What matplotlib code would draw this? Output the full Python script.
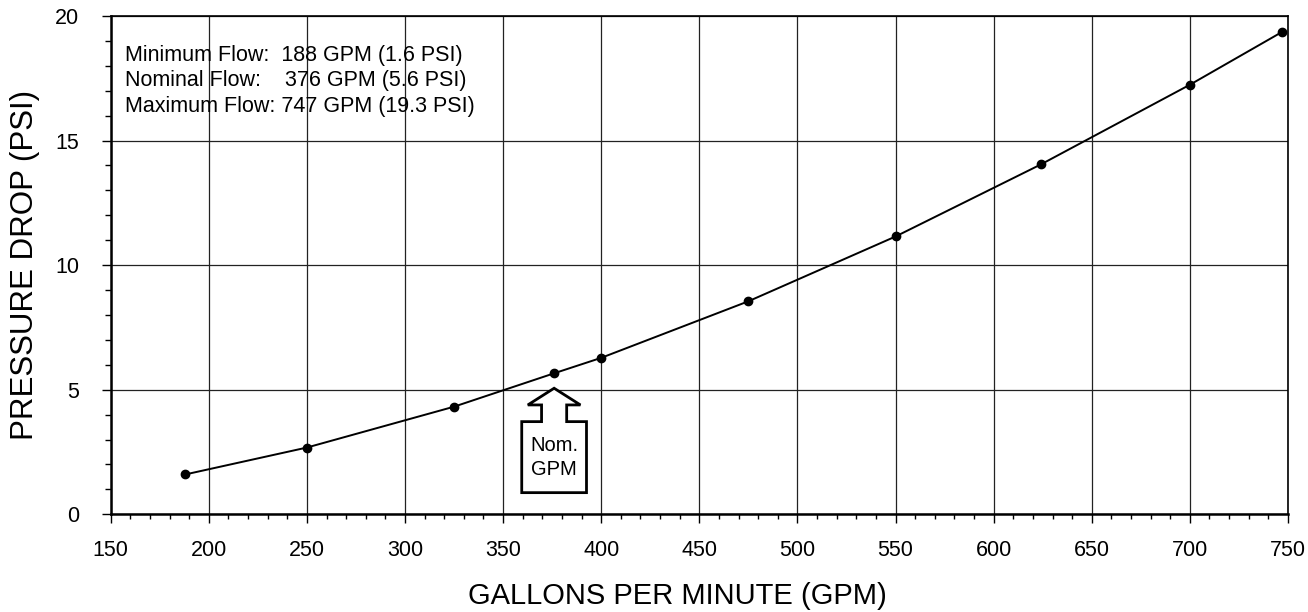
import matplotlib.pyplot as plt
from matplotlib.patches import Polygon
from matplotlib.ticker import MultipleLocator

# Pressure drop curve
gpm = [188, 250, 325, 376, 400, 475, 550, 624, 700, 747]
psi = [1.6, 2.68, 4.32, 5.66, 6.28, 8.55, 11.15, 14.04, 17.24, 19.36]

info_lines = ['Minimum Flow:  188 GPM (1.6 PSI)',
              'Nominal Flow:    376 GPM (5.6 PSI)',
              'Maximum Flow: 747 GPM (19.3 PSI)']
nominal_gpm = 376

plt.rcParams['font.family'] = ['Liberation Sans', 'DejaVu Sans']

fig = plt.figure(figsize=(13.08, 6.12), dpi=100)
ax = fig.add_axes([0.0846, 0.1596, 0.9001, 0.8143])

ax.plot(gpm, psi, color='black', lw=1.4, marker='o', markersize=6, zorder=4)

ax.set_xlim(150, 750)
ax.set_ylim(0, 20)
ax.xaxis.set_major_locator(MultipleLocator(50))
ax.xaxis.set_minor_locator(MultipleLocator(10))
ax.yaxis.set_major_locator(MultipleLocator(5))
ax.yaxis.set_minor_locator(MultipleLocator(1))

ax.grid(which='major', color='#222222', lw=0.9)
ax.set_axisbelow(True)

ax.tick_params(axis='x', which='major', length=6.5, width=1, labelsize=15.5, pad=12)
ax.tick_params(axis='x', which='minor', length=3.6, width=1)
ax.tick_params(axis='y', which='major', length=6.5, width=1, labelsize=15.5, pad=16)
ax.tick_params(axis='y', which='minor', length=4, width=1)

for side in ['left', 'bottom']:
    ax.spines[side].set_linewidth(1.8)
for side in ['top', 'right']:
    ax.spines[side].set_linewidth(1.2)

ax.set_xlabel('GALLONS PER MINUTE (GPM)', fontsize=21)
ax.xaxis.set_label_coords(0.481, -0.135)
ax.set_ylabel('PRESSURE DROP (PSI)', fontsize=22.5)
ax.yaxis.set_label_coords(-0.06, 0.5)

# info text
for i, line in enumerate(info_lines):
    ax.text(0.0125, 0.910 - i * 0.0515, line, transform=ax.transAxes,
            fontsize=15.5, va='baseline', ha='left')

# nominal GPM block arrow
c = nominal_gpm
arrow_pts = [(c, 5.06), (c + 13.4, 4.39), (c + 6.4, 4.39), (c + 6.4, 3.72),
             (c + 16.5, 3.72), (c + 16.5, 0.87), (c - 16.5, 0.87),
             (c - 16.5, 3.72), (c - 6.4, 3.72), (c - 6.4, 4.39), (c - 13.4, 4.39)]
ax.add_patch(Polygon(arrow_pts, closed=True, facecolor='white',
                     edgecolor='black', lw=2, zorder=3))
ax.text(c, 2.28, 'Nom.\nGPM', ha='center', va='center', fontsize=14.5,
        linespacing=1.3, zorder=5)

fig.savefig('out.png', dpi=100)
